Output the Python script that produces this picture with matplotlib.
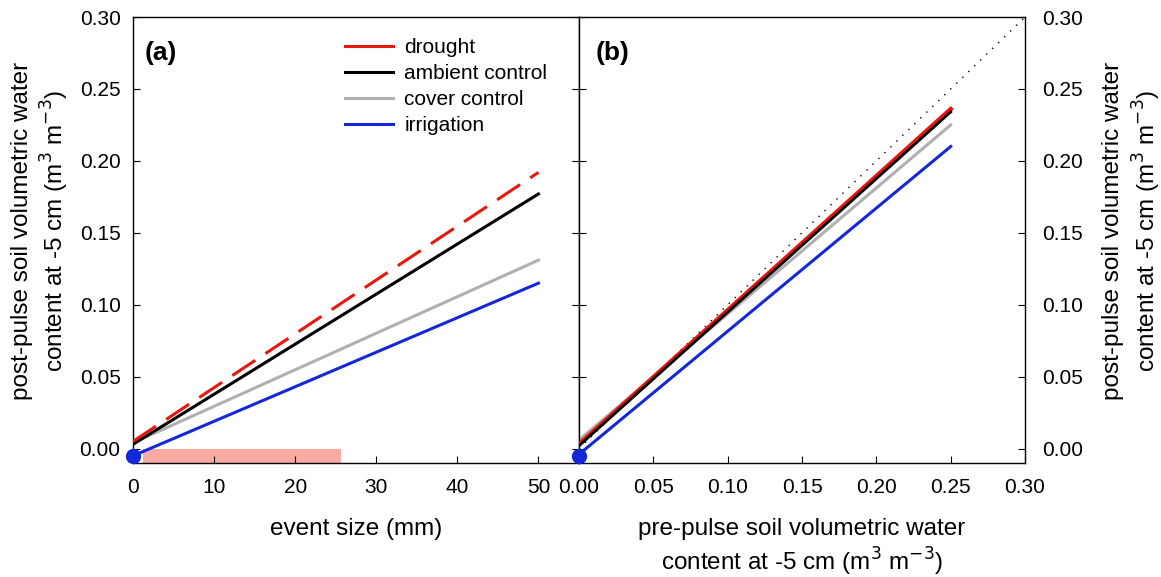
import matplotlib.pyplot as plt
from matplotlib.lines import Line2D

plt.rcParams['font.family'] = ['Liberation Sans', 'DejaVu Sans']

# panel (a): fitted lines vs event size (mm)
event_x = [0, 50]
a_drought = [0.005, 0.192]
a_ambient = [0.003, 0.177]
a_cover = [0.004, 0.131]
a_irrig = [-0.005, 0.115]
event_range = [1.2, 25.7]   # shaded range of observed events

# panel (b): fitted lines vs pre-pulse soil water
pre_x = [0, 0.25]
b_drought = [0.003, 0.236]
b_ambient = [0.002, 0.234]
b_cover = [0.006, 0.225]
b_irrig = [-0.004, 0.210]
one_to_one = [0, 0.30]

dot_a = (0, -0.005)
dot_b = (0, -0.005)

legend_labels = ['drought', 'ambient control', 'cover control', 'irrigation']
yticks = [0, 0.05, 0.10, 0.15, 0.20, 0.25, 0.30]
ytick_labels = ['0.00', '0.05', '0.10', '0.15', '0.20', '0.25', '0.30']

red, grey, blue = '#e8170c', '#b0b0b0', '#1428d8'

fig = plt.figure(figsize=(11.61, 5.77), dpi=100)
ax1 = fig.add_axes([0.1146, 0.1976, 0.3841, 0.7729])
ax2 = fig.add_axes([0.4987, 0.1976, 0.3842, 0.7729])

ylab = 'post-pulse soil volumetric water\ncontent at -5 cm (m$^3$ m$^{-3}$)'
tfs = 15
lfs = 17.5

# (a)
ax1.fill_between(event_range, -0.01, 0.0, color='#f9aaa3', lw=0, zorder=1)
ax1.plot(event_x, a_cover, color=grey, lw=2.2, zorder=2)
ax1.plot(event_x, a_irrig, color=blue, lw=2.2, zorder=2)
ax1.plot(event_x, a_ambient, color='black', lw=2.2, zorder=3)
ax1.plot(event_x, a_drought, color=red, lw=2.2, dashes=(9, 4), zorder=4)
ax1.plot(*dot_a, 'o', color=blue, ms=10, clip_on=False, zorder=5)
ax1.set_xlim(0, 55)
ax1.set_ylim(-0.01, 0.30)
ax1.set_xticks([0, 10, 20, 30, 40, 50])
ax1.set_yticks(yticks)
ax1.set_yticklabels(ytick_labels)
ax1.tick_params(direction='in', labelsize=tfs, length=5, right=True)
ax1.tick_params(axis='x', pad=11)
ax1.tick_params(axis='y', pad=9)
ax1.set_xlabel('event size (mm)', fontsize=lfs, va='top')
ax1.xaxis.set_label_coords(0.5, -0.123)
ax1.set_ylabel(ylab, fontsize=lfs, linespacing=1.25)
ax1.yaxis.set_label_coords(-0.139, 0.52)
ax1.text(0.027, 0.919, '(a)', transform=ax1.transAxes, fontsize=19,
         fontweight='bold', va='center')

handles = [Line2D([], [], color=c, lw=2.2) for c in (red, 'black', grey, blue)]
ax1.legend(handles, legend_labels, loc='upper left', bbox_to_anchor=(0.475, 0.952),
           frameon=False, fontsize=tfs, handlelength=2.3, handletextpad=0.55,
           labelspacing=0.33, borderpad=0, borderaxespad=0)

# (b)
ax2.plot(one_to_one, one_to_one, color='black', lw=1, ls=(0, (1, 5)), zorder=1)
ax2.plot(pre_x, b_irrig, color=blue, lw=2.2, zorder=2)
ax2.plot(pre_x, b_cover, color=grey, lw=2.2, zorder=2)
ax2.plot(pre_x, b_drought, color=red, lw=3.2, zorder=3)
ax2.plot(pre_x, b_ambient, color='black', lw=2, zorder=4)
ax2.plot(*dot_b, 'o', color=blue, ms=10, clip_on=False, zorder=5)
ax2.set_xlim(0, 0.30)
ax2.set_ylim(-0.01, 0.30)
ax2.set_xticks(yticks)
ax2.set_xticklabels(ytick_labels)
ax2.set_yticks(yticks)
ax2.set_yticklabels(ytick_labels)
ax2.tick_params(direction='in', labelsize=tfs, length=5, left=True, right=True,
                labelleft=False, labelright=True)
ax2.tick_params(axis='x', pad=11)
ax2.tick_params(axis='y', pad=12)
ax2.yaxis.set_label_position('right')
ax2.set_ylabel(ylab, fontsize=lfs, linespacing=1.25)
ax2.yaxis.set_label_coords(1.173, 0.52)
ax2.set_xlabel('pre-pulse soil volumetric water\ncontent at -5 cm (m$^3$ m$^{-3}$)',
               fontsize=lfs, va='top', linespacing=1.25)
ax2.xaxis.set_label_coords(0.5, -0.123)
ax2.text(0.038, 0.919, '(b)', transform=ax2.transAxes, fontsize=19,
         fontweight='bold', va='center')

for ax in (ax1, ax2):
    for s in ax.spines.values():
        s.set_linewidth(1.0)

fig.savefig('out.png', dpi=100)
